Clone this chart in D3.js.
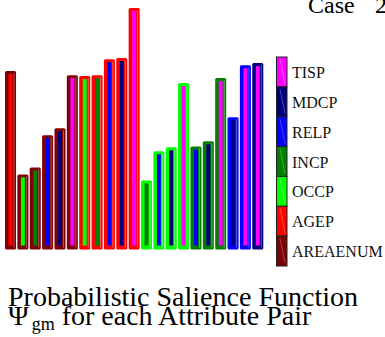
<!DOCTYPE html>
<html>
<head>
<meta charset="utf-8">
<script src="https://cdn.jsdelivr.net/npm/d3@7"></script>
<style>
  body { margin: 0; background: #fff; }
  svg { display: block; }
  text { font-family: "Liberation Serif", "DejaVu Serif", serif; }
</style>
</head>
<body>
<svg width="385" height="337"></svg>
<script>
// attributes, in pair order
var attributes = ["AREAENUM", "AGEP", "OCCP", "INCP", "RELP", "MDCP", "TISP"];
var attrColors = ["#7f0000", "#ff0000", "#00ff00", "#007f00", "#0000ff", "#00007f", "#ff00ff"];

// salience of each attribute pair (outer attr, inner attr)
var pairOuter = ["AREAENUM","AREAENUM","AREAENUM","AREAENUM","AREAENUM","AREAENUM",
                 "AGEP","AGEP","AGEP","AGEP","AGEP",
                 "OCCP","OCCP","OCCP","OCCP",
                 "INCP","INCP","INCP",
                 "RELP","RELP",
                 "MDCP"];
var pairInner = ["AGEP","OCCP","INCP","RELP","MDCP","TISP",
                 "OCCP","INCP","RELP","MDCP","TISP",
                 "INCP","RELP","MDCP","TISP",
                 "RELP","MDCP","TISP",
                 "MDCP","TISP",
                 "TISP"];
var salience = [0.739, 0.311, 0.340, 0.473, 0.502, 0.722,
                0.718, 0.722, 0.788, 0.793, 1.000,
                0.286, 0.407, 0.423, 0.689,
                0.427, 0.448, 0.710,
                0.548, 0.763,
                0.772];

var legendOrder = ["TISP", "MDCP", "RELP", "INCP", "OCCP", "AGEP", "AREAENUM"];

var svg = d3.select("svg");
var color = d3.scaleOrdinal().domain(attributes).range(attrColors);

var data = salience.map(function(v, i) {
  return { key: pairOuter[i] + "-" + pairInner[i], outer: pairOuter[i], inner: pairInner[i], value: v };
});

var x = d3.scaleBand()
  .domain(data.map(function(d) { return d.key; }))
  .range([5, 263.3])
  .paddingInner(0.106);

var y = d3.scaleLinear()
  .domain([0, 1])
  .range([249.5, 8]);

var bars = svg.append("g").selectAll("g")
  .data(data)
  .enter()
  .append("g");

// outer bar
bars.append("rect")
  .attr("x", function(d) { return x(d.key); })
  .attr("y", function(d) { return y(d.value); })
  .attr("width", x.bandwidth())
  .attr("height", function(d) { return y(0) - y(d.value); })
  .attr("rx", 1.5)
  .attr("fill", function(d) { return color(d.outer); });

// faint highlight near right edge
bars.append("rect")
  .attr("x", function(d) { return x(d.key) + x.bandwidth() - 2.5; })
  .attr("y", function(d) { return y(d.value) + 2; })
  .attr("width", 1)
  .attr("height", function(d) { return y(0) - y(d.value) - 4; })
  .attr("fill", "#fff")
  .attr("opacity", 0.35);

// inner strip
bars.append("rect")
  .attr("x", function(d) { return x(d.key) + x.bandwidth() / 2 - 2; })
  .attr("y", function(d) { return y(d.value) + 3; })
  .attr("width", 4)
  .attr("height", function(d) { return y(0) - y(d.value) - 7; })
  .attr("fill", function(d) { return color(d.inner); });

// legend
var ly = d3.scaleBand().domain(legendOrder).range([57, 266]);
var legend = svg.append("g").selectAll("g")
  .data(legendOrder)
  .enter()
  .append("g");

legend.append("rect")
  .attr("x", 276.5)
  .attr("y", function(d) { return ly(d); })
  .attr("width", 10.5)
  .attr("height", ly.bandwidth())
  .attr("fill", function(d) { return color(d); })
  .attr("stroke", "#222")
  .attr("stroke-width", 1);

legend.append("line")
  .attr("x1", 280)
  .attr("y1", function(d) { return ly(d) + 2; })
  .attr("x2", 285)
  .attr("y2", function(d) { return ly(d) + ly.bandwidth() - 3; })
  .attr("stroke", "#fff")
  .attr("stroke-opacity", 0.45)
  .attr("stroke-width", 0.6);

legend.append("text")
  .attr("x", 292)
  .attr("y", function(d) { return ly(d) + ly.bandwidth() / 2 + 6; })
  .attr("font-size", 16)
  .attr("fill", "#111")
  .text(function(d) { return d; });

// title (clipped at top right)
svg.append("text").attr("x", 308).attr("y", 13).attr("font-size", 24).text("Case");
svg.append("text").attr("x", 375).attr("y", 13).attr("font-size", 24).text("2");

// caption
svg.append("text")
  .attr("x", 8).attr("y", 306)
  .attr("font-size", 28)
  .text("Probabilistic Salience Function");

var cap2 = svg.append("text")
  .attr("x", 8).attr("y", 325)
  .attr("font-size", 28);
cap2.append("tspan").text("\u03A8");
cap2.append("tspan").attr("font-size", 18).attr("dy", 5).attr("dx", 3).text("gm");
cap2.append("tspan").attr("dy", -5).text(" for each Attribute Pair");
</script>
</body>
</html>
